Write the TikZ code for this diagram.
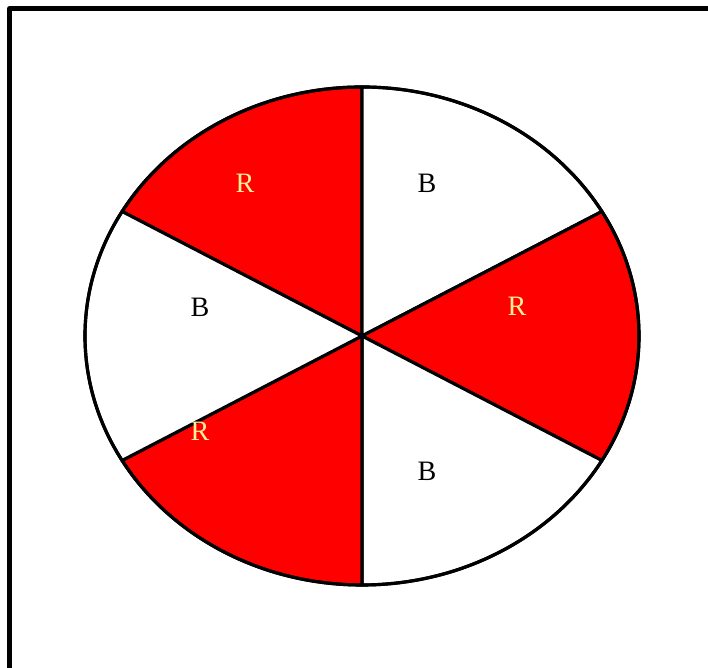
\documentclass[tikz,border=0pt]{standalone}
\usepackage{fontspec}
\setmainfont{Liberation Serif}
\usepackage{xcolor}
\definecolor{wheelred}{RGB}{255, 0, 0}
\definecolor{labelyellow}{RGB}{255, 240, 150}
\begin{document}
\begin{tikzpicture}[
  x=0.02cm, y=0.02cm,
  sectorline/.style={draw=black, line width=1.8pt, line join=round},
  redlabel/.style={text=labelyellow, font=\fontsize{16}{19}\selectfont},
  bluelabel/.style={text=black, font=\fontsize{16}{19}\selectfont}
]
\useasboundingbox (0,0) rectangle (708,668);
\draw[line width=2.6pt, line join=round] (9.5,0) |- (708,659.5);

\coordinate (ctr) at (362,332);
% six sectors, alternating red and white
\foreach \a/\col in {90/wheelred, 30/white, -30/wheelred, -90/white, -150/wheelred, 150/white} {
  \filldraw[sectorline, fill=\col] (ctr) -- ++(\a:277 and 249)
    arc[start angle=\a, delta angle=60, x radius=277, y radius=249] -- cycle;
}
\draw[sectorline] (ctr) ellipse[x radius=277, y radius=249];

\node[redlabel] (r1) at (245,485) {R};
\node[bluelabel] (b1) at (427,485) {B};
\node[bluelabel] (b2) at (200,361) {B};
\node[redlabel] (r2) at (517,362) {R};
\node[redlabel] (r3) at (200,237) {R};
\node[bluelabel] (b3) at (427,197) {B};
\end{tikzpicture}
\end{document}
